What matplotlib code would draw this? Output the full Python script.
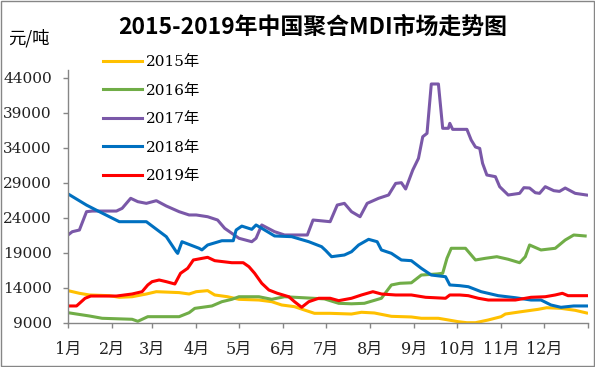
import matplotlib
matplotlib.use('Agg')
import matplotlib.pyplot as plt
from matplotlib.patches import Rectangle

# day of year / price (yuan per ton)
d2015 = [0, 8, 15, 29, 36, 45, 55, 62, 78, 85, 90, 98, 103, 112, 120, 134, 143, 150, 159, 166,
         173, 184, 199, 206, 215, 227, 241, 248, 260, 267, 274, 280, 286, 295, 304, 307, 318, 330, 336, 346,
         356, 364]
v2015 = [13580, 13200, 12960, 12860, 12630, 12710, 13100, 13430, 13300, 13100, 13430, 13580, 12960, 12710, 12340, 12240, 12000, 11530, 11290, 10810,
         10340, 10340, 10240, 10490, 10390, 9910, 9820, 9630, 9630, 9390, 9140, 9000, 9000, 9390, 9860, 10240, 10570, 10910, 11140, 11050,
         10770, 10390]

d2016 = [0, 6, 15, 24, 45, 49, 56, 78, 85, 89, 101, 108, 115, 120, 134, 143, 152, 180, 190, 199,
         208, 220, 227, 233, 241, 248, 259, 263, 266, 269, 279, 286, 293, 301, 309, 317, 321, 324, 332, 342,
         349, 355, 363]
v2016 = [10430, 10240, 9960, 9630, 9490, 9200, 9860, 9860, 10430, 11050, 11390, 12000, 12340, 12710, 12710, 12340, 12710, 12400, 11770, 11700,
         11770, 12490, 14390, 14630, 14700, 15810, 15960, 16060, 18200, 19630, 19630, 17960, 18200, 18430, 18060, 17570, 18430, 20100, 19390, 19630,
         20810, 21530, 21390]

d2017 = [0, 3, 8, 13, 17, 34, 38, 44, 49, 55, 62, 69, 78, 85, 90, 98, 105, 110, 120, 129,
         132, 136, 145, 152, 168, 172, 184, 189, 194, 199, 205, 210, 218, 225, 230, 234, 237, 242, 246, 249,
         252, 255, 260, 263, 267, 268, 270, 280, 283, 286, 289, 291, 294, 300, 303, 309, 317, 320, 324, 328,
         331, 335, 341, 345, 349, 356, 364]
v2017 = [21530, 22000, 22240, 24860, 24950, 24950, 25340, 26770, 26290, 26050, 26430, 25670, 24860, 24390, 24390, 24140, 23670, 22480, 21060, 20570,
         21060, 22960, 22000, 21530, 21530, 23670, 23430, 25810, 26050, 24860, 24140, 26050, 26770, 27240, 28900, 29000, 28100, 30810, 32480, 35570,
         36050, 43100, 43100, 36770, 36770, 37480, 36620, 36620, 35100, 34100, 33900, 31770, 30100, 29860, 28430, 27240, 27480, 28290, 28240, 27570,
         27480, 28430, 27860, 27760, 28240, 27480, 27240]

d2018 = [0, 13, 22, 36, 55, 69, 76, 77, 80, 92, 94, 98, 108, 116, 118, 122, 129, 132, 136, 145,
         157, 169, 178, 181, 185, 194, 199, 204, 211, 217, 220, 227, 234, 241, 248, 255, 265, 268, 275, 281,
         290, 302, 314, 325, 332, 339, 346, 355, 364]
v2018 = [27400, 25800, 24860, 23430, 23430, 21290, 19140, 18900, 20570, 19630, 19400, 20100, 20710, 20710, 22240, 22800, 22340, 22960, 22490, 21390,
         21290, 20570, 19860, 19290, 18430, 18670, 19140, 20100, 20910, 20570, 19390, 18910, 17960, 17860, 16770, 15810, 15570, 14390, 14290, 14140,
         13430, 12860, 12570, 12240, 12240, 11530, 11200, 11390, 11390]

d2019 = [0, 6, 12, 16, 34, 45, 52, 56, 59, 64, 69, 75, 79, 84, 88, 98, 103, 115, 123, 127,
         131, 136, 141, 147, 155, 159, 164, 169, 176, 184, 190, 199, 206, 214, 220, 230, 241, 251, 265, 268,
         275, 281, 288, 295, 314, 325, 335, 342, 347, 351, 364]
v2019 = [11390, 11390, 12490, 12810, 12810, 13100, 13430, 14390, 14860, 15100, 14860, 14530, 16060, 16770, 17960, 18340, 17860, 17570, 17570, 17000,
         16060, 14630, 13670, 13200, 12710, 12000, 11200, 12000, 12490, 12490, 12150, 12490, 12960, 13430, 13100, 12960, 12960, 12630, 12490, 12960,
         12960, 12860, 12490, 12240, 12240, 12630, 12710, 12960, 13200, 12860, 12860]

series = [
    ('2015年', d2015, v2015, '#FFC000'),
    ('2016年', d2016, v2016, '#70AD47'),
    ('2017年', d2017, v2017, '#7A58A8'),
    ('2018年', d2018, v2018, '#0070C0'),
    ('2019年', d2019, v2019, '#FF0000'),
]

month_start = [0, 31, 59, 90, 120, 151, 181, 212, 243, 273, 304, 334, 365]
month_labels = ['1月', '2月', '3月', '4月', '5月', '6月', '7月', '8月', '9月', '10月', '11月', '12月', '']
y_ticks = [9000, 14000, 19000, 24000, 29000, 34000, 39000, 44000]

num_font = ['DejaVu Serif', 'Noto Sans CJK SC']
cjk_font = ['Noto Sans CJK SC', 'DejaVu Sans']
grey = '#868686'

fig = plt.figure(figsize=(5.95, 3.67), dpi=100)
ax = fig.add_axes([68 / 595, 1 - 322.7 / 367, 520 / 595, (322.7 - 70) / 367])

handles = []
for name, d, v, c in series:
    h, = ax.plot(d, v, color=c, lw=2.2, label=name, solid_joinstyle='round')
    handles.append(h)

ax.set_xlim(0, 365)
ax.set_ylim(9000, 45100)
ax.set_xticks(month_start)
ax.set_xticklabels(month_labels, family=num_font, fontsize=11.5)
ax.set_yticks(y_ticks)
ax.set_yticklabels([str(t) for t in y_ticks], family=num_font, fontsize=11)
ax.tick_params(axis='both', direction='out', length=3.6, width=1, color=grey, colors='#222222')
ax.tick_params(axis='y', pad=8)
ax.tick_params(axis='x', pad=9.5)
for s in ['top', 'right']:
    ax.spines[s].set_visible(False)
for s in ['left', 'bottom']:
    ax.spines[s].set_color(grey)
    ax.spines[s].set_linewidth(1)

ax.legend(handles=handles, loc='upper left', bbox_to_anchor=(103 / 595, 1 - 55 / 367),
          bbox_transform=fig.transFigure, frameon=False, borderpad=0, borderaxespad=0,
          handlelength=2.55, handletextpad=0.25, labelspacing=0.95,
          prop={'family': num_font, 'size': 11})

fig.text(0.526, 1 - 27 / 367, '2015-2019年中国聚合MDI市场走势图', ha='center', va='center',
         family=cjk_font, fontsize=16.5, fontweight='bold')
fig.text(8 / 595, 1 - 38 / 367, '元/吨', ha='left', va='center', family=cjk_font, fontsize=12.5)

fig.patches.append(Rectangle((0.001, 0.002), 0.997, 0.996, transform=fig.transFigure,
                             fill=False, edgecolor=grey, lw=1))

fig.savefig('out.png', dpi=100)
